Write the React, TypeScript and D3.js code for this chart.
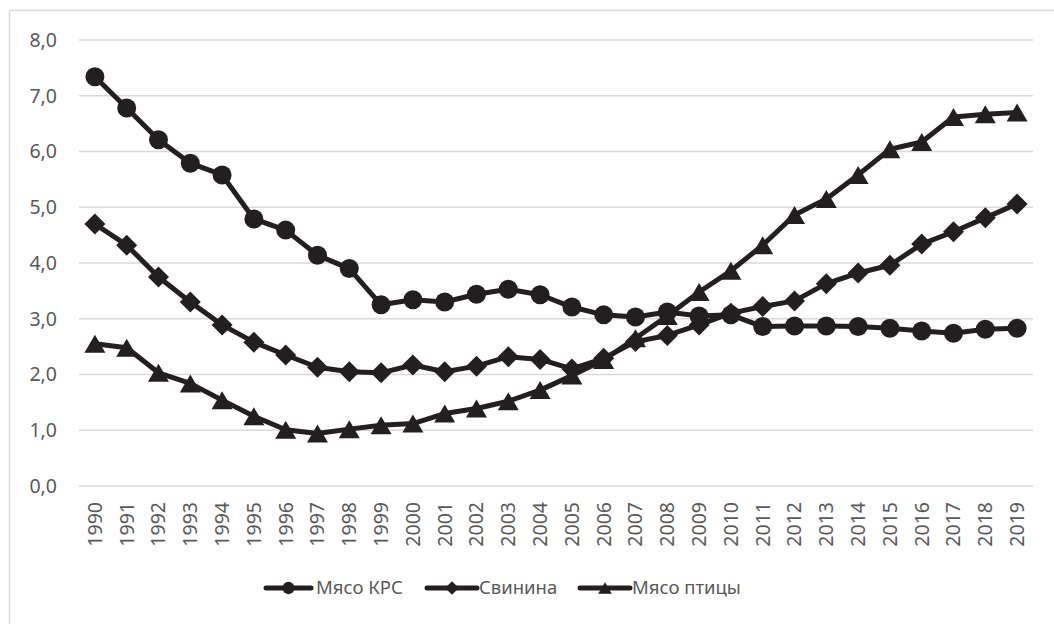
import React from "react";
import * as d3 from "d3";

const years = [
  "1990", "1991", "1992", "1993", "1994", "1995", "1996", "1997", "1998", "1999",
  "2000", "2001", "2002", "2003", "2004", "2005", "2006", "2007", "2008", "2009",
  "2010", "2011", "2012", "2013", "2014", "2015", "2016", "2017", "2018", "2019",
];

const beef = [
  7.34, 6.78, 6.21, 5.79, 5.58, 4.79, 4.59, 4.14, 3.9, 3.25,
  3.34, 3.3, 3.44, 3.53, 3.43, 3.21, 3.07, 3.03, 3.12, 3.05,
  3.07, 2.86, 2.87, 2.87, 2.86, 2.83, 2.78, 2.74, 2.81, 2.83,
];

const pork = [
  4.7, 4.32, 3.75, 3.3, 2.89, 2.58, 2.35, 2.13, 2.05, 2.03,
  2.17, 2.05, 2.15, 2.32, 2.27, 2.1, 2.29, 2.59, 2.7, 2.89,
  3.1, 3.22, 3.32, 3.63, 3.82, 3.96, 4.34, 4.56, 4.81, 5.06,
];

const poultry = [
  2.55, 2.48, 2.03, 1.84, 1.54, 1.25, 1.01, 0.94, 1.02, 1.09,
  1.12, 1.3, 1.39, 1.52, 1.72, 1.98, 2.26, 2.65, 3.05, 3.48,
  3.86, 4.32, 4.86, 5.15, 5.58, 6.04, 6.17, 6.62, 6.67, 6.7,
];

const yTicks = [0, 1, 2, 3, 4, 5, 6, 7, 8];

const seriesNames = ["Мясо КРС", "Свинина", "Мясо птицы"];
const seriesShapes = ["circle", "diamond", "triangle"];

const INK = "#231f20";
const GRID = "#d9d9d9";
const TEXT = "#595959";
const FONT = "'Noto Sans', 'Open Sans', sans-serif";

// draw one marker at (cx, cy)
function Marker({ shape, cx, cy, s }: { shape: string; cx: number; cy: number; s: number }) {
  if (shape === "circle") return <circle cx={cx} cy={cy} r={9.5 * s} fill={INK} />;
  if (shape === "diamond") {
    const h = 10.5 * s;
    return <path d={`M${cx},${cy - h}L${cx + h},${cy}L${cx},${cy + h}L${cx - h},${cy}Z`} fill={INK} />;
  }
  const w = 10.5 * s, h = 9 * s;
  return <path d={`M${cx},${cy - h}L${cx + w},${cy + h}L${cx - w},${cy + h}Z`} fill={INK} />;
}

export default function App() {
  const width = 1054, height = 624;
  const plotLeft = 79, plotRight = 1033, plotTop = 40, plotBottom = 486;

  const x = d3.scaleBand<string>().domain(years).range([plotLeft, plotRight]);
  const y = d3.scaleLinear().domain([0, 8]).range([plotBottom, plotTop]);
  const cx = (yr: string) => (x(yr) as number) + x.bandwidth() / 2;

  const line = d3
    .line<number>()
    .x((_, i) => cx(years[i]))
    .y((d) => y(d));

  const allSeries = [beef, pork, poultry];
  const fmt = (v: number) => v.toFixed(1).replace(".", ",");

  const legendItems = [
    { x0: 266, x1: 311, tx: 316 },
    { x0: 427, x1: 477, tx: 479 },
    { x0: 580, x1: 630, tx: 632 },
  ];
  const legendY = 588;

  return (
    <svg
      width={width}
      height={height}
      style={{ position: "absolute", left: 0, top: 0, background: "#fff" }}
      fontFamily={FONT}
    >
      {/* chart area border (only left and top visible) */}
      <line x1={9.5} y1={10.5} x2={1054} y2={10.5} stroke={GRID} strokeWidth={1.5} />
      <line x1={9.5} y1={10.5} x2={9.5} y2={624} stroke={GRID} strokeWidth={1.5} />

      {yTicks.map((t) => (
        <g key={t}>
          <line x1={plotLeft} x2={plotRight} y1={y(t)} y2={y(t)} stroke={GRID} strokeWidth={1.5} />
          <text x={57} y={y(t)} dy="0.35em" textAnchor="end" fontSize={19.5} fill={TEXT}>
            {fmt(t)}
          </text>
        </g>
      ))}

      {years.map((yr) => (
        <text
          key={yr}
          transform={`translate(${cx(yr)},${plotBottom + 16}) rotate(-90)`}
          textAnchor="end"
          dy="0.35em"
          fontSize={19.5}
          fill={TEXT}
        >
          {yr}
        </text>
      ))}

      {allSeries.map((vals, si) => (
        <g key={si}>
          <path d={line(vals) as string} fill="none" stroke={INK} strokeWidth={5} strokeLinejoin="round" />
          {vals.map((v, i) => (
            <Marker key={i} shape={seriesShapes[si]} cx={cx(years[i])} cy={y(v)} s={1} />
          ))}
        </g>
      ))}

      {legendItems.map((it, i) => (
        <g key={i}>
          <line x1={it.x0} x2={it.x1} y1={legendY} y2={legendY} stroke={INK} strokeWidth={5} strokeLinecap="round" />
          <Marker shape={seriesShapes[i]} cx={(it.x0 + it.x1) / 2} cy={legendY} s={0.65} />
          <text x={it.tx} y={legendY} dy="0.35em" fontSize={18.5} fill={TEXT}>
            {seriesNames[i]}
          </text>
        </g>
      ))}
    </svg>
  );
}
